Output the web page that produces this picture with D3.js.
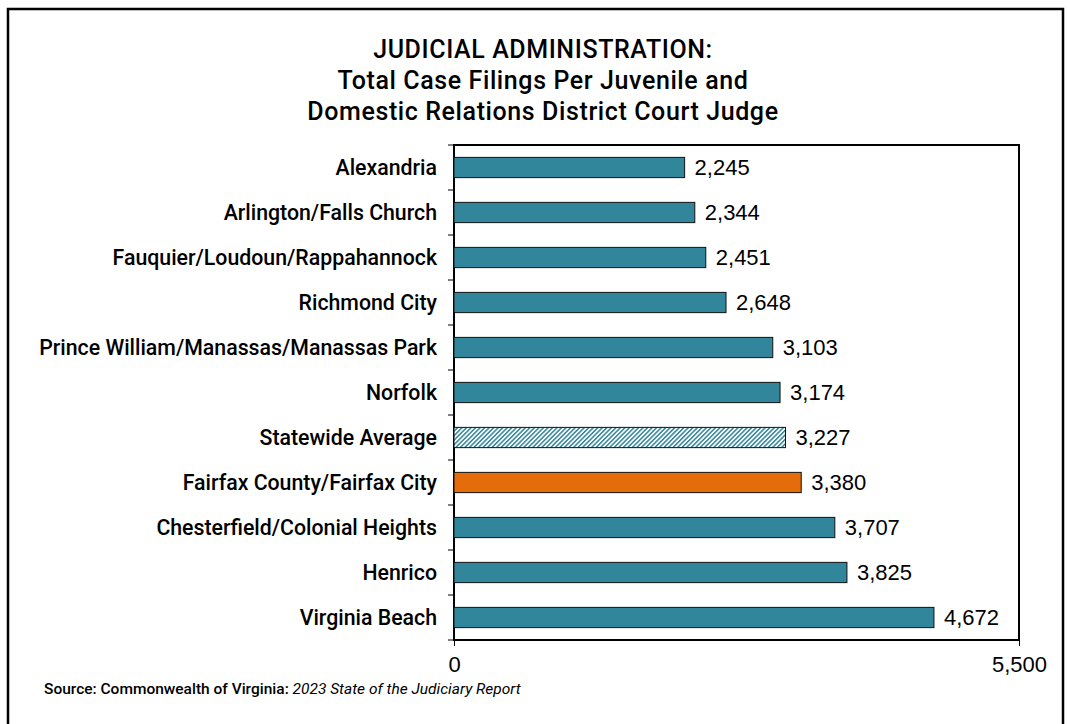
<!DOCTYPE html>
<html>
<head>
<meta charset="utf-8">
<script src="https://cdn.jsdelivr.net/npm/d3@7"></script>
<style>
  body { margin: 0; background: #fff; }
  svg text { font-family: Roboto, "Liberation Sans", sans-serif; }
</style>
</head>
<body>
<svg id="chart"></svg>
<script>
// data
const categories = ["Alexandria", "Arlington/Falls Church", "Fauquier/Loudoun/Rappahannock",
    "Richmond City", "Prince William/Manassas/Manassas Park", "Norfolk", "Statewide Average",
    "Fairfax County/Fairfax City", "Chesterfield/Colonial Heights", "Henrico", "Virginia Beach"];
const filings = [2245, 2344, 2451, 2648, 3103, 3174, 3227, 3380, 3707, 3825, 4672];
const xTicks = [0, 5500];
const titleLines = ["JUDICIAL ADMINISTRATION:", "Total Case Filings Per Juvenile and",
    "Domestic Relations District Court Judge"];

const width = 1070, height = 724;
const margin = {top: 145, right: 51, bottom: 84, left: 454};
const innerW = width - margin.left - margin.right;
const innerH = height - margin.top - margin.bottom;

const teal = "#31869b", orange = "#e46c0a";

const svg = d3.select("#chart").attr("width", width).attr("height", height);

const defs = svg.append("defs");
const pat = defs.append("pattern")
    .attr("id", "hatch")
    .attr("patternUnits", "userSpaceOnUse")
    .attr("width", 3.2).attr("height", 3.2)
    .attr("patternTransform", "rotate(45)");
pat.append("rect").attr("width", 3.2).attr("height", 3.2).attr("fill", "#fff");
pat.append("rect").attr("width", 1.5).attr("height", 3.2).attr("fill", teal);

// outer frame
svg.append("rect")
    .attr("x", 8).attr("y", 9).attr("width", 1055).attr("height", 730)
    .attr("fill", "none").attr("stroke", "#000").attr("stroke-width", 2.5);

// title
svg.append("g").selectAll("text")
    .data(titleLines)
    .join("text")
    .attr("x", 543)
    .attr("y", (d, i) => 58 + i * 31)
    .attr("text-anchor", "middle")
    .attr("font-size", 25)
    .attr("letter-spacing", 0.6)
    .attr("font-weight", 500)
    .attr("fill", "#000")
    .text(d => d);

const chart = svg.append("g").attr("transform", `translate(${margin.left},${margin.top})`);

const x = d3.scaleLinear().domain([0, 5500]).range([0, innerW]);
const y = d3.scaleBand().domain(categories).range([0, innerH])
    .paddingInner(0.55).paddingOuter(0.275);

// plot frame
chart.append("rect")
    .attr("width", innerW).attr("height", innerH)
    .attr("fill", "none").attr("stroke", "#000").attr("stroke-width", 2);

// bars
chart.append("g").selectAll("rect")
    .data(categories)
    .join("rect")
    .attr("x", 0)
    .attr("y", d => y(d))
    .attr("width", (d, i) => x(filings[i]))
    .attr("height", y.bandwidth())
    .attr("fill", d => d === "Statewide Average" ? "url(#hatch)" : d.startsWith("Fairfax") ? orange : teal)
    .attr("stroke", "#111")
    .attr("stroke-width", 1);

// value labels
chart.append("g").selectAll("text")
    .data(categories)
    .join("text")
    .attr("x", (d, i) => x(filings[i]) + 10)
    .attr("y", d => y(d) + y.bandwidth() / 2)
    .attr("dy", "0.36em")
    .attr("font-size", 22)
    .attr("fill", "#000")
    .style("font-family", "'Liberation Sans', Arial, sans-serif")
    .text((d, i) => d3.format(",")(filings[i]));

// y axis: labels + ticks between categories
const step = y.step();
const yAxisG = chart.append("g");
yAxisG.selectAll("line")
    .data(d3.range(categories.length + 1))
    .join("line")
    .attr("x1", -6).attr("x2", 0)
    .attr("y1", i => i * step).attr("y2", i => i * step)
    .attr("stroke", "#000").attr("stroke-width", 1);
yAxisG.selectAll("text")
    .data(categories)
    .join("text")
    .attr("x", -17)
    .attr("y", d => y(d) + y.bandwidth() / 2)
    .attr("dy", "0.36em")
    .attr("text-anchor", "end")
    .attr("font-size", 21.3)
    .attr("font-weight", 500)
    .attr("fill", "#000")
    .text(d => d);

// x axis
const xAxis = d3.axisBottom(x).tickValues(xTicks).tickSize(6).tickPadding(10)
    .tickFormat(d3.format(","));
const xAxisG = chart.append("g").attr("transform", `translate(0,${innerH})`).call(xAxis);
xAxisG.select(".domain").remove();
xAxisG.selectAll("text").attr("font-size", 22).attr("fill", "#000")
    .style("font-family", "'Liberation Sans', Arial, sans-serif");
xAxisG.selectAll("line").attr("stroke", "#000");

// source note
const src = svg.append("text").attr("x", 44).attr("y", 694).attr("font-size", 15.5).attr("fill", "#000");
src.append("tspan").attr("font-weight", 500).text("Source: Commonwealth of Virginia: ");
src.append("tspan").attr("font-style", "italic").text("2023 State of the Judiciary Report");
</script>
</body>
</html>
